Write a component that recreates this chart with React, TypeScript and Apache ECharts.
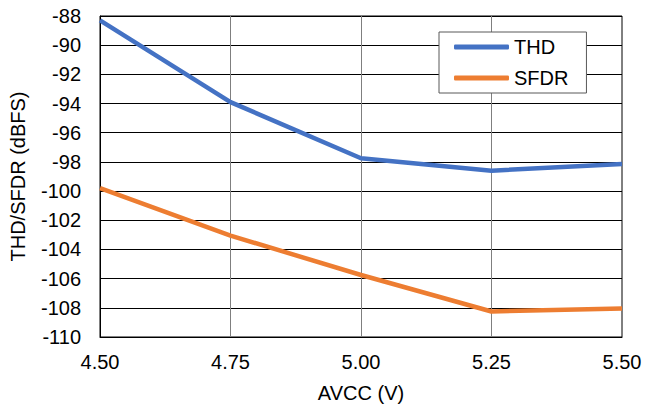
import React, { useEffect, useRef } from "react";
import * as echarts from "echarts";

const xValues = [4.5, 4.75, 5.0, 5.25, 5.5];
const thd = [-88.3, -93.9, -97.75, -98.6, -98.15];
const sfdr = [-99.8, -103.05, -105.75, -108.25, -108.05];
const seriesNames = ["THD", "SFDR"];
const FONT = "'Liberation Sans', Arial, sans-serif";

export default function App() {
  const ref = useRef<HTMLDivElement>(null);
  useEffect(() => {
    if (!ref.current) return;
    const chart = echarts.init(ref.current, undefined, { renderer: "svg" });
    chart.setOption({
      animation: false,
      backgroundColor: "#fff",
      textStyle: { fontFamily: FONT },
      grid: {
        left: 100,
        top: 16,
        width: 522,
        height: 321,
        show: true,
        borderColor: "#000",
        borderWidth: 1,
        backgroundColor: "transparent",
      },
      legend: {
        orient: "vertical",
        left: 439,
        top: 32,
        padding: [5, 18, 5, 15],
        itemGap: 11,
        itemWidth: 55,
        itemHeight: 5,
        icon: "roundRect",
        backgroundColor: "#fff",
        borderColor: "#595959",
        borderWidth: 1,
        borderRadius: 0,
        textStyle: { fontFamily: FONT, fontSize: 20, color: "#000" },
        data: seriesNames,
      },
      xAxis: {
        type: "value",
        min: 4.5,
        max: 5.5,
        interval: 0.25,
        name: "AVCC (V)",
        nameLocation: "middle",
        nameGap: 46,
        nameTextStyle: { fontFamily: FONT, fontSize: 20, color: "#000" },
        axisLine: { show: true, lineStyle: { color: "#000", width: 1 } },
        axisTick: { show: false },
        axisLabel: {
          fontFamily: FONT,
          fontSize: 20,
          color: "#000",
          margin: 15,
          formatter: (v: number) => v.toFixed(2),
        },
        splitLine: { show: true, lineStyle: { color: "#7f7f7f", width: 1 } },
      },
      yAxis: {
        type: "value",
        min: -110,
        max: -88,
        interval: 2,
        name: "THD/SFDR (dBFS)",
        nameLocation: "middle",
        nameGap: 72,
        nameTextStyle: { fontFamily: FONT, fontSize: 20, color: "#000" },
        axisLine: { show: true, lineStyle: { color: "#000", width: 1 } },
        axisTick: { show: false },
        axisLabel: { fontFamily: FONT, fontSize: 20, color: "#000", margin: 19 },
        splitLine: { show: true, lineStyle: { color: "#000", width: 1 } },
      },
      series: [
        {
          name: seriesNames[0],
          type: "line",
          data: xValues.map((x, i) => [x, thd[i]]),
          showSymbol: false,
          symbol: "none",
          lineStyle: { color: "#4472C4", width: 4.5 },
          itemStyle: { color: "#4472C4" },
        },
        {
          name: seriesNames[1],
          type: "line",
          data: xValues.map((x, i) => [x, sfdr[i]]),
          showSymbol: false,
          symbol: "none",
          lineStyle: { color: "#ED7D31", width: 4.5 },
          itemStyle: { color: "#ED7D31" },
        },
      ],
    });
    return () => chart.dispose();
  }, []);
  return (
    <div
      ref={ref}
      style={{ position: "absolute", left: 0, top: 0, width: 645, height: 409 }}
    />
  );
}
